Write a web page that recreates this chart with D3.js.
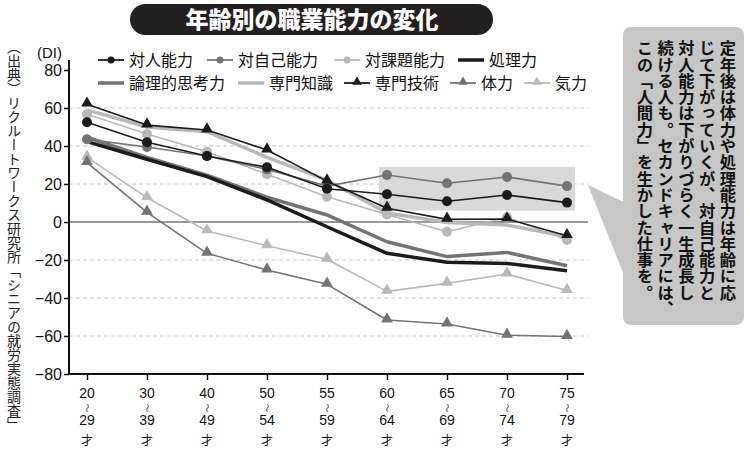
<!DOCTYPE html>
<html><head><meta charset="utf-8">
<script src="https://cdn.jsdelivr.net/npm/d3@7"></script>
<style>
html,body{margin:0;padding:0;background:#fff;}
svg{display:block;}
</style></head>
<body>
<svg id="c" width="750" height="463"></svg>
<script>
// ---- data ----
const categories = ["20-29","30-39","40-49","50-54","55-59","60-64","65-69","70-74","75-79"];
const catFrom = ["20","30","40","50","55","60","65","70","75"];
const catTo   = ["29","39","49","54","59","64","69","74","79"];
const yTicks = [80,60,40,20,0,-20,-40,-60,-80];

const taijin        = [52.5, 42, 34.7, 28.8, 17.5, 14.6, 10.9, 14.2, 10.2];   // 対人能力
const taijiko       = [43.5, 39.5, 34.7, 27.7, 18.9, 24.7, 20.4, 23.7, 18.9]; // 対自己能力
const taikadai      = [56.7, 46.3, 37, 25.1, 13.3, 4.0, -5.1, 2.5, -9.5];     // 対課題能力
const shori         = [42.3, 33, 23.9, 11.6, -2.5, -16.5, -21.2, -21.8, -25.6]; // 処理力
const ronri         = [44.6, 34, 24.7, 13, 3.7, -10.4, -18.2, -16, -23];      // 論理的思考力
const senmonChishiki= [59, 50, 47.5, 34, 22, 4.7, -0.3, -1.6, -7.7];          // 専門知識
const senmonGijutsu = [62, 51, 48.4, 37.9, 21.5, 7.2, 1.4, 1.6, -7.2];        // 専門技術
const tairyoku      = [31.2, 5.1, -16.5, -25.3, -32.8, -51.6, -53.7, -59.6, -60.3]; // 体力
const kiryoku       = [34, 12.8, -4.7, -12.5, -19.6, -36.5, -32.3, -27.4, -36.1];   // 気力

const highlight = {from:"60-64", to:"75-79", top:29, bottom:6};

const BLACK="#1b1b1b", MID="#737373", LIGHT="#b8b8b8";
const series = [
  {name:"専門知識",   values:senmonChishiki, color:LIGHT, width:3.5, marker:null},
  {name:"論理的思考力",values:ronri,          color:MID,   width:3.5, marker:null},
  {name:"処理力",     values:shori,          color:BLACK, width:3.5, marker:null},
  {name:"気力",       values:kiryoku,        color:LIGHT, width:1.6, marker:"tri"},
  {name:"体力",       values:tairyoku,       color:MID,   width:1.6, marker:"tri"},
  {name:"対課題能力", values:taikadai,       color:LIGHT, width:1.6, marker:"circle"},
  {name:"対自己能力", values:taijiko,        color:MID,   width:1.6, marker:"circle"},
  {name:"対人能力",   values:taijin,         color:BLACK, width:1.6, marker:"circle"},
  {name:"専門技術",   values:senmonGijutsu,  color:BLACK, width:1.6, marker:"tri"},
];
const legendRows = [
  ["対人能力","対自己能力","対課題能力","処理力"],
  ["論理的思考力","専門知識","専門技術","体力","気力"]
];

// ---- chart ----
const svg = d3.select("#c");
const JP = "'Noto Sans CJK JP','Noto Sans CJK SC',sans-serif";
const NUM = "'Liberation Sans Narrow','Arial Narrow','Liberation Sans',sans-serif";

const x = d3.scalePoint().domain(categories).range([87, 567]);
const y = d3.scaleLinear().domain([-80, 80]).range([374, 70]);
const axisLeftX = 69, axisRightX = 588;

// title
svg.append("rect").attr("x",130).attr("y",4).attr("width",363).attr("height",31).attr("rx",15.5).attr("fill","#231f20");
svg.append("text").attr("x",312).attr("y",28).attr("text-anchor","middle")
  .attr("font-family",JP).attr("font-weight",900).attr("font-size",23).attr("fill","#fff")
  .text("年齢別の職業能力の変化");

// grid
const grid = svg.append("g");
yTicks.filter(t => t !== 80 && t !== -80 && t !== 0).forEach(t => {
  grid.append("line").attr("x1",axisLeftX).attr("x2",axisRightX).attr("y1",y(t)).attr("y2",y(t))
    .attr("stroke","#c4c4c4").attr("stroke-width",1).attr("stroke-dasharray","4,3");
});

// highlight box
svg.append("rect")
  .attr("x", x(highlight.from)-8).attr("y", y(highlight.top))
  .attr("width", x(highlight.to)-x(highlight.from)+16).attr("height", y(highlight.bottom)-y(highlight.top))
  .attr("fill","#d9d9d9");

// zero line
svg.append("line").attr("x1",axisLeftX).attr("x2",axisRightX).attr("y1",y(0)).attr("y2",y(0))
  .attr("stroke","#333").attr("stroke-width",1.2);

// y axis
const yAxis = d3.axisLeft(y).tickValues(yTicks).tickSize(5).tickPadding(2).tickFormat(d3.format("d"));
const gy = svg.append("g").attr("transform",`translate(${axisLeftX},0)`).call(yAxis);
gy.select(".domain").remove();
gy.selectAll(".tick line").attr("stroke","#111").attr("stroke-width",1.5);
gy.selectAll(".tick text").attr("font-family",NUM).attr("font-size",16).attr("fill","#111");
svg.append("line").attr("x1",axisLeftX).attr("x2",axisLeftX).attr("y1",60).attr("y2",y(-80))
  .attr("stroke","#111").attr("stroke-width",2);
svg.append("text").attr("x",62).attr("y",58).attr("text-anchor","end")
  .attr("font-family",NUM).attr("font-size",15).attr("fill","#111").text("(DI)");

// x axis
const xAxis = d3.axisBottom(x).tickSize(6).tickFormat("");
const gx = svg.append("g").attr("transform",`translate(0,${y(-80)})`).call(xAxis);
gx.select(".domain").remove();
gx.selectAll(".tick line").attr("stroke","#111").attr("stroke-width",1.5);
svg.append("line").attr("x1",axisLeftX-1).attr("x2",axisRightX-4).attr("y1",y(-80)).attr("y2",y(-80))
  .attr("stroke","#111").attr("stroke-width",2);
categories.forEach((c,i) => {
  const g = svg.append("g").attr("transform",`translate(${x(c)},0)`)
    .attr("font-family",NUM).attr("font-size",14).attr("fill","#111").attr("text-anchor","middle");
  g.append("text").attr("y",398).text(catFrom[i]);
  g.append("text").attr("transform","translate(0,408) rotate(90)").attr("font-size",9)
    .attr("dy","0.35em").attr("font-family",JP).text("～");
  g.append("text").attr("y",425).text(catTo[i]);
  g.append("text").attr("y",445).attr("font-family",JP).attr("font-size",12).text("才");
});

// source (vertical)
svg.append("text").attr("x",14).attr("y",40)
  .attr("style","writing-mode: vertical-rl;")
  .attr("font-family",JP).attr("font-size",14).attr("fill","#222")
  .text("（出典）リクルートワークス研究所「シニアの就労実態調査」");

// lines
const line = d3.line().x((d,i)=>x(categories[i])).y(d=>y(d));
const triPath = d3.symbol().type(d3.symbolTriangle).size(60);
series.forEach(s => {
  svg.append("path").datum(s.values).attr("d",line).attr("fill","none")
    .attr("stroke",s.color).attr("stroke-width",s.width).attr("stroke-linejoin","round");
  if (s.marker === "circle") {
    svg.selectAll(null).data(s.values).enter().append("circle")
      .attr("cx",(d,i)=>x(categories[i])).attr("cy",d=>y(d)).attr("r",5).attr("fill",s.color);
  } else if (s.marker === "tri") {
    svg.selectAll(null).data(s.values).enter().append("path")
      .attr("d",triPath()).attr("transform",(d,i)=>`translate(${x(categories[i])},${y(d)-1})`).attr("fill",s.color);
  }
});

// legend
const byName = {}; series.forEach(s => byName[s.name]=s);
const legendPos = [
  [[98,60],[207,60],[334,60],[458,60]],
  [[98,83],[238,83],[344,83],[450,83],[524,83]]
];
legendRows.forEach((row,ri) => row.forEach((name,ci) => {
  const s = byName[name]; const [lx,ly] = legendPos[ri][ci];
  const g = svg.append("g").attr("transform",`translate(${lx},${ly})`);
  g.append("line").attr("x1",0).attr("x2",26).attr("y1",0).attr("y2",0)
    .attr("stroke",s.color).attr("stroke-width",s.marker? 1.8 : 3.5);
  if (s.marker==="circle") g.append("circle").attr("cx",13).attr("cy",0).attr("r",3.5).attr("fill",s.color);
  if (s.marker==="tri") g.append("path").attr("d",d3.symbol().type(d3.symbolTriangle).size(40)()).attr("transform","translate(13,-1)").attr("fill",s.color);
  g.append("text").attr("x",31).attr("y",0).attr("dy","0.36em")
    .attr("font-family",JP).attr("font-size",16).attr("fill","#111").text(name);
}));

// callout
svg.append("path").attr("d","M588,185 L630,205 L630,290 Z").attr("fill","#c6c6c6");
svg.append("rect").attr("x",623).attr("y",27).attr("width",121).attr("height",298).attr("rx",8).attr("fill","#c6c6c6");
const calloutCols = [
  "定年後は体力や処理能力は年齢に応",
  "じて下がっていくが、対自己能力と",
  "対人能力は下がりづらく一生成長し",
  "続ける人も。セカンドキャリアには、",
  "この「人間力」を生かした仕事を。"
];
calloutCols.forEach((t,i) => {
  svg.append("text").attr("x",728 - i*20.8).attr("y",40)
    .attr("style","writing-mode: vertical-rl;")
    .attr("font-family",JP).attr("font-weight",700).attr("font-size",16.3).attr("fill","#111")
    .text(t);
});
</script>
</body></html>
